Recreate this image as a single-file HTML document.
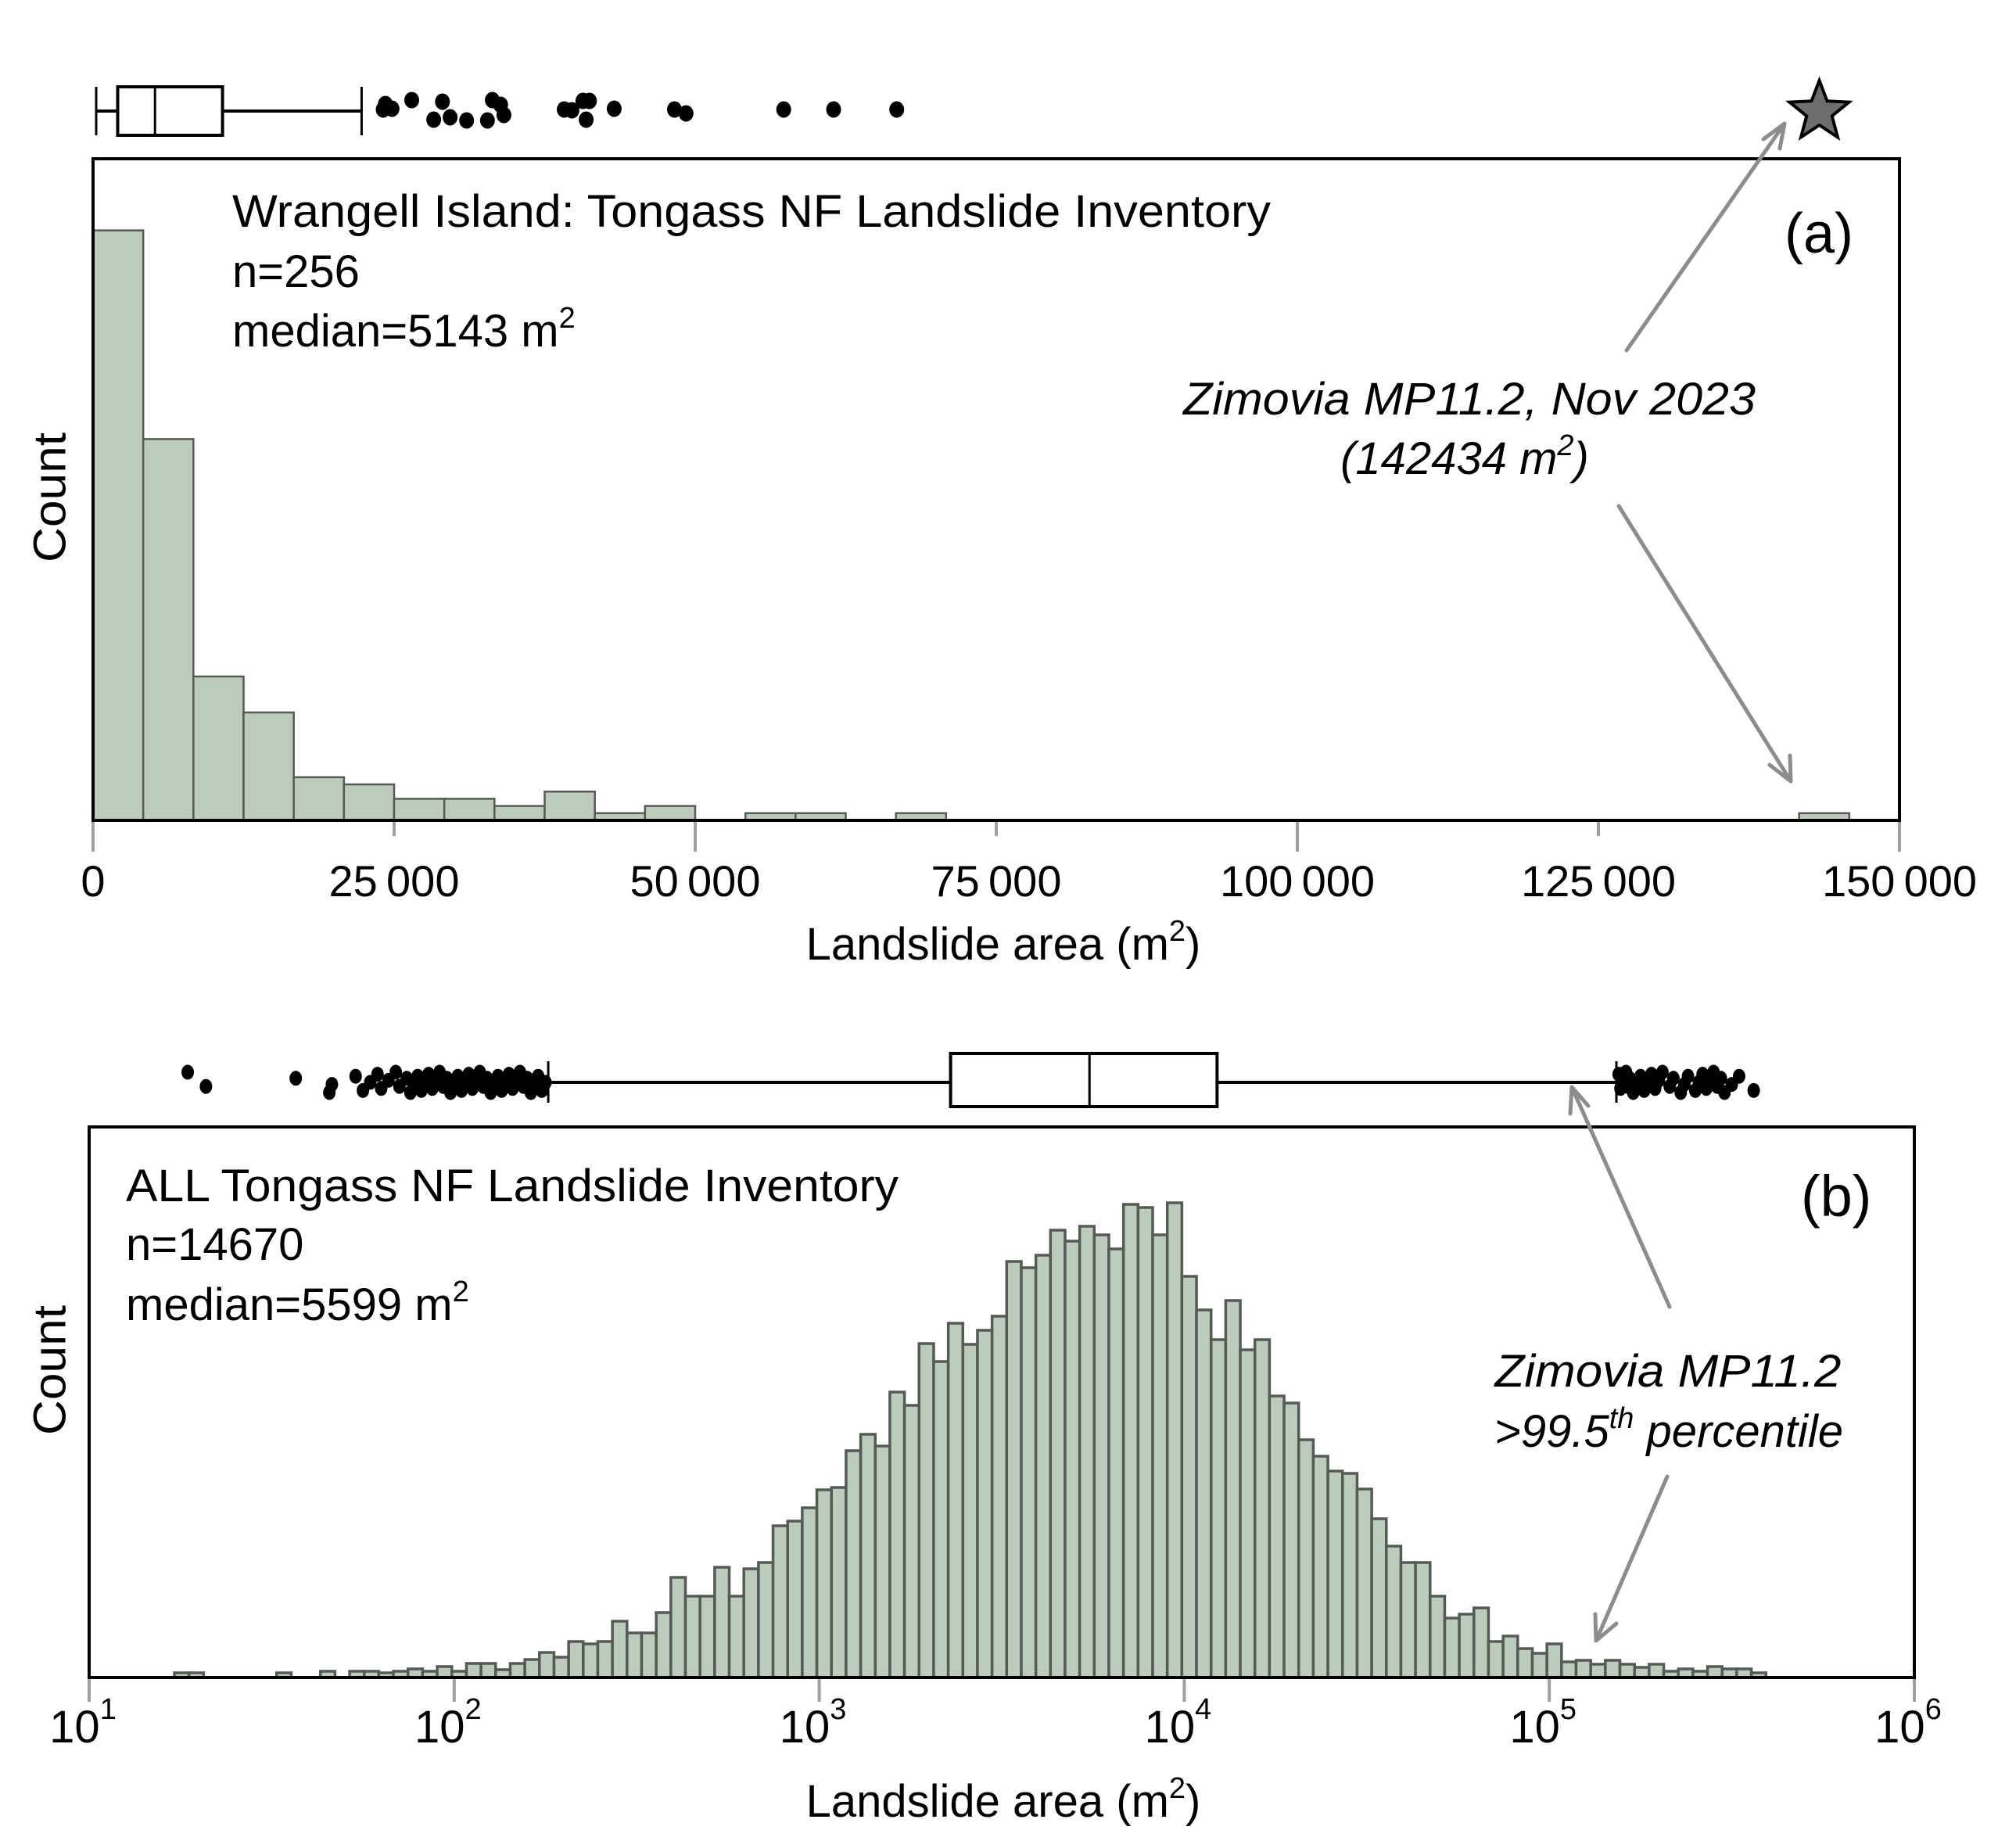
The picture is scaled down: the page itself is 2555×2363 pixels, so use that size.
<!DOCTYPE html>
<html><head><meta charset="utf-8"><style>
html,body{margin:0;padding:0;background:#fff;}
svg{display:block;font-family:"Liberation Sans",sans-serif;}
</style></head><body>
<svg id="fig" width="2555" height="2363" viewBox="0 0 2555 2363" xmlns="http://www.w3.org/2000/svg">
<g id="panelA"></g>
<g id="panelB"></g>
<g fill="#000">
<text x="297" y="290" font-size="58" textLength="1328" lengthAdjust="spacingAndGlyphs">Wrangell Island: Tongass NF Landslide Inventory</text>
<text x="297" y="367" font-size="58">n=256</text>
<text x="297" y="443" font-size="58">median=5143 m<tspan font-size="38" dy="-24">2</tspan></text>
<text x="2282" y="323" font-size="72">(a)</text>
<text x="1879" y="530" font-size="58" font-style="italic" text-anchor="middle" textLength="732" lengthAdjust="spacingAndGlyphs">Zimovia MP11.2, Nov 2023</text>
<text x="1873" y="606" font-size="58" font-style="italic" text-anchor="middle">(142434 m<tspan font-size="38" dy="-24">2</tspan><tspan dy="24">)</tspan></text>
<text x="68" y="636" font-size="58" text-anchor="middle" transform="rotate(-90 68 636)" dominant-baseline="middle" textLength="166" lengthAdjust="spacingAndGlyphs">Count</text>
<text x="1283" y="1227" font-size="58" text-anchor="middle">Landslide area (m<tspan font-size="38" dy="-24">2</tspan><tspan dy="24">)</tspan></text>
</g>
<g fill="#000">
<text x="161" y="1536" font-size="58" textLength="988" lengthAdjust="spacingAndGlyphs">ALL Tongass NF Landslide Inventory</text>
<text x="161" y="1611" font-size="58">n=14670</text>
<text x="161" y="1688" font-size="58">median=5599 m<tspan font-size="38" dy="-24">2</tspan></text>
<text x="2303" y="1555" font-size="74">(b)</text>
<text x="2133" y="1773" font-size="58" font-style="italic" text-anchor="middle" textLength="443" lengthAdjust="spacingAndGlyphs">Zimovia MP11.2</text>
<text x="2134" y="1850" font-size="58" font-style="italic" text-anchor="middle">&gt;99.5<tspan font-size="38" dy="-24">th</tspan><tspan dy="24"> percentile</tspan></text>
<text x="68" y="1752" font-size="58" text-anchor="middle" transform="rotate(-90 68 1752)" dominant-baseline="middle" textLength="166" lengthAdjust="spacingAndGlyphs">Count</text>
<text x="1283" y="2323" font-size="58" text-anchor="middle">Landslide area (m<tspan font-size="38" dy="-24">2</tspan><tspan dy="24">)</tspan></text>
</g>
<g stroke="#8c8c8c" stroke-width="5" fill="none" stroke-linecap="round">
<path d="M2080 448 L2282 158 M2282 158 L2255 178 M2282 158 L2276 190"/>
<path d="M2070 647 L2290 999 M2290 999 L2263 978 M2290 999 L2289 966"/>
<path d="M2135 1671 L2010 1390 M2010 1390 L2008 1424 M2010 1390 L2031 1414"/>
<path d="M2132 1888 L2041 2098 M2041 2098 L2040 2064 M2041 2098 L2067 2076"/>
</g>
</svg>
<script>
// ---------- Panel A data ----------
const binWidthA = 150000 / 36;
const countsA = [82,53,20,15,6,5,3,3,2,4,1,2,0,1,1,0,1,0,0,0,0,0,0,0,0,0,0,0,0,0,0,0,0,0,1,0];
const ticksA = [0,25000,50000,75000,100000,125000,150000];
const tickLabelsA = ["0","25\u2009000","50\u2009000","75\u2009000","100\u2009000","125\u2009000","150\u2009000"];
const boxA = [260, 2045, 5143, 10750, 22300];
const outliersA = [24273,24825,24091,26461,29013,28286,29649,31019,32747,33156,33844,34117,39123,39766,40675,41221,40948,43273,48279,49240,57351,61494,66734];
const jitterA = [-9,-3,-2,-14,-12,11,8,12,12,-14,-8,5,-2,-1,-13,-13,11,-3,-2,3,-2,-2,-2];
const zimoviaArea = 142434;
// ---------- Panel B data ----------
const binLoB = 1.2335;
const binStepB = 0.04;
const countsB = [6,6,0,0,0,0,0,6,0,0,8,0,8,8,6,8,11,8,14,8,18,18,10,18,23,32,26,46,43,46,72,57,57,83,128,104,104,
141,104,139,147,194,200,217,240,243,290,311,296,365,348,427,404,453,426,444,462,532,524,540,572,558,577,566,548,605,601,566,607,513,470,432,482,419,432,
360,351,304,283,264,261,241,203,168,147,147,104,76,81,89,46,53,37,31,43,20,22,17,22,17,13,17,8,11,8,14,11,11,6];
const ticksB = [1,2,3,4,5,6];
const boxB = [181, 2290, 5500, 12300, 152700];
const outliersLowB = [1.27,1.32,1.566,1.658,1.665,1.73,1.75,1.77,1.79,1.80,1.82,1.84,1.85,1.87,1.88,1.89,1.90,1.91,1.92,1.93,1.94,1.95,1.96,1.97,1.98,1.99,2.0,2.01,2.02,2.03,2.04,2.05,2.06,2.07,2.08,2.09,2.10,2.11,2.12,2.13,2.14,2.15,2.16,2.17,2.18,2.19,2.2,2.21,2.22,2.23,2.24,2.25];
const outliersHighB = [5.19,5.195,5.20,5.21,5.215,5.22,5.23,5.24,5.25,5.26,5.27,5.28,5.29,5.30,5.31,5.33,5.34,5.36,5.37,5.38,5.40,5.41,5.42,5.43,5.44,5.45,5.46,5.47,5.48,5.50,5.52,5.56];

const NS = "http://www.w3.org/2000/svg";
function mk(parent, tag, attrs){ const e=document.createElementNS(NS,tag); for(const k in attrs) e.setAttribute(k,attrs[k]); parent.appendChild(e); return e; }

const A = {x0:119, x1:2429, top:203, base:1049, max:150000, unit:9.2};
const xA = v => A.x0 + v*(A.x1-A.x0)/A.max;
const yA = c => A.base - c*A.unit;
const B = {x0:114, x1:2448, top:1441, base:2145, lo:1, hi:6};
const xB = lg => B.x0 + (lg-B.lo)*(B.x1-B.x0)/(B.hi-B.lo);
const yB = c => B.base - c;

const gA = document.getElementById('panelA');
const gB = document.getElementById('panelB');

countsA.forEach((c,i)=>{
  if(c<=0) return;
  const r = mk(gA,'rect',{x:xA(i*binWidthA), y:yA(c), width:xA((i+1)*binWidthA)-xA(i*binWidthA), height:A.base-yA(c), fill:'#bccbbb', stroke:'#545a54', 'stroke-width':2.5});
  
  
});
const fA = mk(gA,'rect',{x:A.x0,y:A.top,width:A.x1-A.x0,height:A.base-A.top,fill:'none',stroke:'#000','stroke-width':4});


ticksA.forEach((t,i)=>{
  const len = (i%2===0)?40:20;
  const tk = mk(gA,'line',{x1:xA(t),x2:xA(t),y1:A.base+2,y2:A.base+len,stroke:'#a0a0a0','stroke-width':4});
  
  
  const lb = mk(gA,'text',{x:xA(t),y:1146,'font-size':56,'text-anchor':'middle'});
  lb.textContent = tickLabelsA[i];
  
  
});
(function(){
  const cy=142, h=31, g=mk(gA,'g',{stroke:'#000','stroke-width':4,fill:'none'});
  
  
  mk(g,'line',{x1:xA(boxA[0]),x2:xA(boxA[1]),y1:cy,y2:cy});
  mk(g,'line',{x1:xA(boxA[3]),x2:xA(boxA[4]),y1:cy,y2:cy});
  mk(g,'line',{x1:xA(boxA[0]),x2:xA(boxA[0]),y1:cy-h,y2:cy+h,'stroke-width':3});
  mk(g,'line',{x1:xA(boxA[4]),x2:xA(boxA[4]),y1:cy-h,y2:cy+h,'stroke-width':3});
  mk(g,'rect',{x:xA(boxA[1]),y:cy-h,width:xA(boxA[3])-xA(boxA[1]),height:2*h,fill:'#fff'});
  mk(g,'line',{x1:xA(boxA[2]),x2:xA(boxA[2]),y1:cy-h,y2:cy+h,'stroke-width':3});
  outliersA.forEach((v,i)=>{
    const d = mk(gA,'ellipse',{cx:xA(v),cy:cy+jitterA[i],rx:9.5,ry:10.5,fill:'#000'});
    
    
  });
  const sx = xA(zimoviaArea)+14, sy=143, R=40, r=17; let pts=[];
  for(let k=0;k<10;k++){const rr=k%2?r:R; const a=-Math.PI/2+k*Math.PI/5; pts.push((sx+rr*Math.cos(a)).toFixed(1)+','+(sy+rr*Math.sin(a)).toFixed(1));}
  const st = mk(gA,'polygon',{points:pts.join(' '),fill:'#6e6e6e',stroke:'#000','stroke-width':4,'stroke-linejoin':'miter'});
  
  
})();

countsB.forEach((c,i)=>{
  if(c<=0) return;
  const l=binLoB+i*binStepB;
  const r = mk(gB,'rect',{x:xB(l), y:yB(c), width:xB(l+binStepB)-xB(l), height:B.base-yB(c), fill:'#bccbbb', stroke:'#545a54', 'stroke-width':3.5});
  
  
});
const fB = mk(gB,'rect',{x:B.x0,y:B.top,width:B.x1-B.x0,height:B.base-B.top,fill:'none',stroke:'#000','stroke-width':4});


ticksB.forEach(t=>{
  const tk = mk(gB,'line',{x1:xB(t),x2:xB(t),y1:B.base+2,y2:B.base+31,stroke:'#a0a0a0','stroke-width':4});
  
  
  const lb = mk(gB,'text',{x:xB(t)-8,y:2228,'font-size':58,'text-anchor':'middle'});
  lb.textContent='10';
  const sup = mk(lb,'tspan',{'font-size':38,dy:-30});
  sup.textContent=String(t);
  
  
});
(function(){
  const cy=1384, lg=Math.log10, g=mk(gB,'g',{stroke:'#000','stroke-width':4,fill:'none'});
  
  
  mk(g,'line',{x1:xB(lg(boxB[0])),x2:xB(lg(boxB[1])),y1:cy,y2:cy});
  mk(g,'line',{x1:xB(lg(boxB[3])),x2:xB(lg(boxB[4])),y1:cy,y2:cy});
  mk(g,'line',{x1:xB(lg(boxB[0])),x2:xB(lg(boxB[0])),y1:cy-27,y2:cy+26,'stroke-width':3});
  mk(g,'line',{x1:xB(lg(boxB[4])),x2:xB(lg(boxB[4])),y1:cy-27,y2:cy+26,'stroke-width':3});
  mk(g,'rect',{x:xB(lg(boxB[1])),y:1347,width:xB(lg(boxB[3]))-xB(lg(boxB[1])),height:68,fill:'#fff'});
  mk(g,'line',{x1:xB(lg(boxB[2])),x2:xB(lg(boxB[2])),y1:1347,y2:1415,'stroke-width':3});
  outliersLowB.concat(outliersHighB).forEach((v,i)=>{
    const j = ((i*7)%11-5)*2.6;
    const d = mk(gB,'ellipse',{cx:xB(v),cy:cy+j,rx:8,ry:9.5,fill:'#000'});
    
    
  });
})();
</script>
</body></html>
